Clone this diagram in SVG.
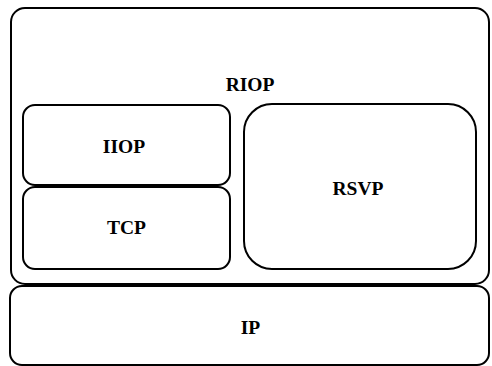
<svg xmlns="http://www.w3.org/2000/svg" width="492" height="366" viewBox="0 0 492 366">
<style>
.box{fill:#fff;stroke:#000;stroke-width:2}
.lbl{font-family:"Liberation Serif","Times New Roman",serif;font-weight:bold;font-size:19.5px;text-anchor:middle;fill:#000}
</style>
<rect width="492" height="366" fill="#fff"/>
<g id="riop">
<rect class="box" x="11" y="8" width="478" height="276" rx="14" ry="14"/>
<text class="lbl" x="250" y="91">RIOP</text>
</g>
<g id="iiop">
<rect class="box" x="23" y="105" width="207" height="80" rx="12" ry="12"/>
<text class="lbl" x="124" y="153">IIOP</text>
</g>
<g id="tcp">
<rect class="box" x="23" y="187" width="207" height="82" rx="12" ry="12"/>
<text class="lbl" x="126.5" y="234">TCP</text>
</g>
<g id="rsvp">
<rect class="box" x="244" y="104" width="232" height="165" rx="28" ry="28"/>
<text class="lbl" x="358" y="195">RSVP</text>
</g>
<g id="ip">
<rect class="box" x="10" y="286" width="479" height="79" rx="12" ry="12"/>
<text class="lbl" x="250.5" y="334">IP</text>
</g>
<g id="connectors"></g>
</svg>
